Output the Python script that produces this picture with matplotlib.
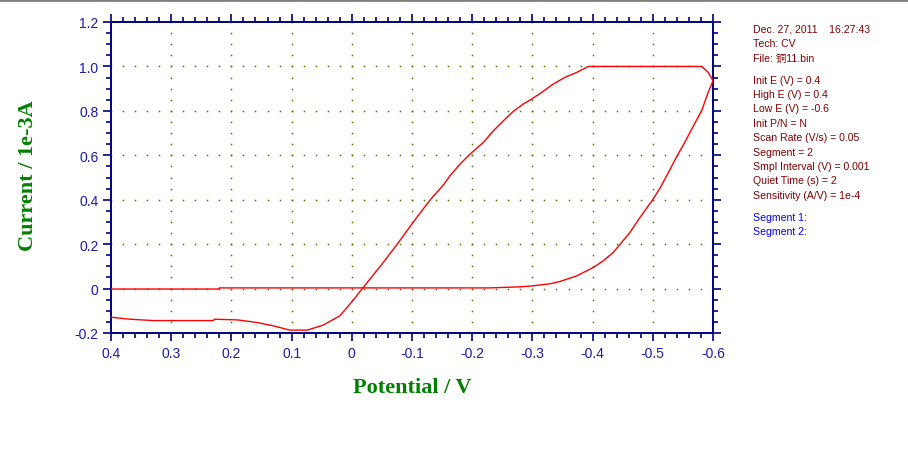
"""
Cyclic voltammogram (CV) recreated from the instrument screenshot
"""
import matplotlib
matplotlib.use("Agg")
import matplotlib.pyplot as plt
from matplotlib.lines import Line2D
import numpy as np

plt.rcParams["axes.unicode_minus"] = False

# Segment 1: 0.4 V -> -0.6 V (potential in V, current in 1e-3 A)
seg1_E = [0.4, 0.368, 0.33, 0.23, 0.228, 0.19, 0.157, 0.13, 0.103, 0.074, 0.048,
          0.02, 0.0, -0.0175, -0.0524, -0.0746, -0.1078, -0.1299, -0.1532, -0.1631,
          -0.1797, -0.1963, -0.2185, -0.2351, -0.2517, -0.2683, -0.2849, -0.2988,
          -0.3154, -0.3347, -0.3542, -0.3736, -0.3929, -0.581, -0.592, -0.6]
seg1_I = [-0.129, -0.138, -0.144, -0.144, -0.138, -0.141, -0.153, -0.168, -0.187,
          -0.187, -0.165, -0.123, -0.06, 0.0, 0.118, 0.197, 0.320, 0.398, 0.470,
          0.508, 0.560, 0.605, 0.658, 0.710, 0.755, 0.798, 0.831, 0.853, 0.883,
          0.921, 0.951, 0.973, 1.0, 1.0, 0.973, 0.936]

# Segment 2: -0.6 V -> 0.4 V
seg2_E = [-0.6, -0.592, -0.581, -0.5646, -0.5535, -0.5397, -0.5258, -0.512,
          -0.4992, -0.4787, -0.4621, -0.4455, -0.4344, -0.4178, -0.4012, -0.3736,
          -0.3458, -0.33, -0.30, -0.28, -0.25, -0.23, 0.22, 0.22, 0.4]
seg2_I = [0.936, 0.883, 0.80, 0.718, 0.660, 0.594, 0.522, 0.452, 0.398, 0.320,
          0.253, 0.199, 0.163, 0.125, 0.095, 0.057, 0.032, 0.022, 0.012, 0.008,
          0.005, 0.003, 0.003, -0.002, -0.002]

x_ticks = [0.4, 0.3, 0.2, 0.1, 0.0, -0.1, -0.2, -0.3, -0.4, -0.5, -0.6]
x_labels = ["0.4", "0.3", "0.2", "0.1", "0", "-0.1", "-0.2", "-0.3", "-0.4", "-0.5", "-0.6"]
y_ticks = [-0.2, 0.0, 0.2, 0.4, 0.6, 0.8, 1.0, 1.2]
y_labels = ["-0.2", "0", "0.2", "0.4", "0.6", "0.8", "1.0", "1.2"]

info_lines = ["Dec. 27, 2011    16:27:43", "Tech: CV", "File: 铜11.bin", None,
              "Init E (V) = 0.4", "High E (V) = 0.4", "Low E (V) = -0.6",
              "Init P/N = N", "Scan Rate (V/s) = 0.05", "Segment = 2",
              "Smpl Interval (V) = 0.001", "Quiet Time (s) = 2",
              "Sensitivity (A/V) = 1e-4", None]
segment_lines = ["Segment 1:", "Segment 2:"]

navy = "#000080"
tick_blue = "#1a1ab0"
green = "#008000"
dot_green = "#4d7a00"

fig = plt.figure(figsize=(9.08, 4.6), dpi=100)
ax = fig.add_axes([111 / 908, 1 - 334 / 460, 602 / 908, 311 / 460])

# dotted grid: dots at minor positions along interior major lines
x_minor = np.arange(0.4, -0.6001, -0.02)
y_minor = np.arange(-0.2, 1.2001, 0.05)
for xv in x_ticks[1:-1]:
    ax.plot(np.full(len(y_minor), xv), y_minor, ls="none", marker="s", ms=1.1,
            mew=0, color=dot_green, zorder=1)
for yv in y_ticks[1:-1]:
    ax.plot(x_minor, np.full(len(x_minor), yv), ls="none", marker="s", ms=1.1,
            mew=0, color=dot_green, zorder=1)

ax.plot(seg1_E, seg1_I, color="#ff0000", lw=1.0, zorder=3)
ax.plot(seg2_E, seg2_I, color="#ff0000", lw=1.0, zorder=3)

ax.set_xlim(0.4, -0.6)
ax.set_ylim(-0.2, 1.2)
ax.set_xticks(x_ticks)
ax.set_xticklabels(x_labels)
ax.set_yticks(y_ticks)
ax.set_yticklabels(y_labels)
ax.set_xticks(x_minor, minor=True)
ax.set_yticks(y_minor, minor=True)

for s in ax.spines.values():
    s.set_color(navy)
    s.set_linewidth(1.4)
ax.tick_params(which="both", direction="out", color=navy, top=True, right=True,
               width=1.2)
ax.tick_params(which="major", length=6, labelsize=10, labelcolor=tick_blue, pad=3)
ax.tick_params(which="minor", length=3.5)
for lab in ax.get_xticklabels() + ax.get_yticklabels():
    lab.set_fontfamily("Liberation Sans")

fig.text(412 / 908, 1 - 388 / 460, "Potential / V", ha="center", va="center",
         fontsize=16, fontweight="bold", family="Liberation Serif", color=green)
fig.text(28 / 908, 1 - 176 / 460, "Current / 1e-3A", ha="center", va="center",
         rotation=90, fontsize=16, fontweight="bold", family="Liberation Serif",
         color=green)

# instrument info panel
y = 30
for line in info_lines:
    if line is not None:
        fig.text(753 / 908, 1 - y / 460, line, ha="left", va="center", fontsize=7.6,
                 family=["Liberation Sans", "Noto Sans CJK SC"], color="#800000")
        y += 14.4
    else:
        y += 7.5
for line in segment_lines:
    fig.text(753 / 908, 1 - y / 460, line, ha="left", va="center", fontsize=7.6,
             family="Liberation Sans", color="#0000ff")
    y += 14.6

# grey window border at the top
fig.add_artist(Line2D([0, 1], [1 - 1 / 460, 1 - 1 / 460], transform=fig.transFigure,
                      color="#808080", lw=2))

fig.savefig("out.png", dpi=100)
